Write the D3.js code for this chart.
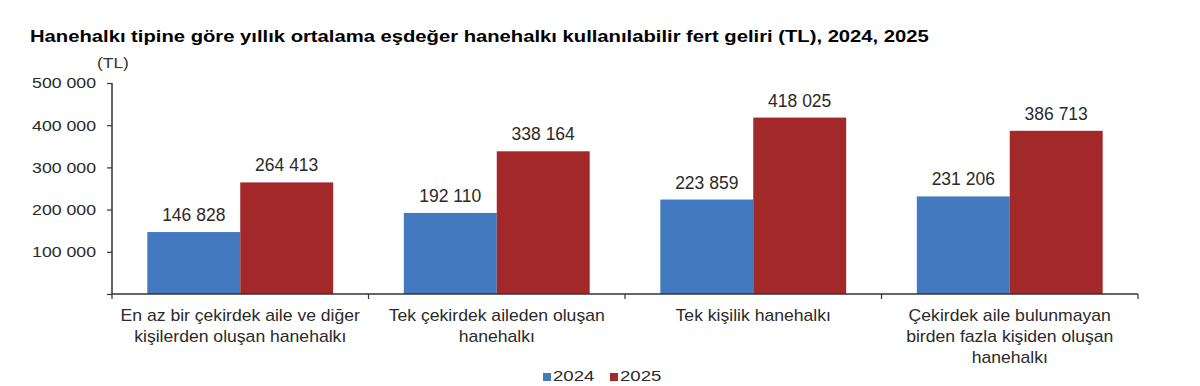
<!DOCTYPE html>
<html>
<head>
<meta charset="utf-8">
<script src="https://cdn.jsdelivr.net/npm/d3@7"></script>
<style>
  body { margin: 0; background: #fff; }
  text { font-family: "Liberation Sans", Arial, sans-serif; }
</style>
</head>
<body>
<div id="chart"></div>
<script>
const categories = [
  ["En az bir çekirdek aile ve diğer", "kişilerden oluşan hanehalkı"],
  ["Tek çekirdek aileden oluşan", "hanehalkı"],
  ["Tek kişilik hanehalkı"],
  ["Çekirdek aile bulunmayan", "birden fazla kişiden oluşan", "hanehalkı"]
];
const years = ["2024", "2025"];
const values2024 = [146828, 192110, 223859, 231206];
const values2025 = [264413, 338164, 418025, 386713];
const yTicks = [0, 100000, 200000, 300000, 400000, 500000];

const colors = { "2024": "#4279BF", "2025": "#A2282A" };
const W = 1200, H = 386;
const margin = { top: 83, right: 62, bottom: 92, left: 112 };
const width = W - margin.left - margin.right;
const height = H - margin.top - margin.bottom;

const fmt = v => d3.format(",")(v).replace(/,/g, " ");

const svg = d3.select("#chart").append("svg")
  .attr("width", W).attr("height", H);

// the source image is a little stretched sideways, so text gets a scaleX
svg.append("text")
  .attr("transform", "translate(30,42) scale(1.19,1)")
  .attr("font-size", 17).attr("font-weight", "bold")
  .attr("fill", "#000")
  .text("Hanehalkı tipine göre yıllık ortalama eşdeğer hanehalkı kullanılabilir fert geliri (TL), 2024, 2025");

svg.append("text")
  .attr("transform", "translate(97,68) scale(1.2,1)")
  .attr("font-size", 14.5).attr("fill", "#333")
  .text("(TL)");

const g = svg.append("g").attr("transform", `translate(${margin.left},${margin.top})`);

const x0 = d3.scaleBand().domain(d3.range(categories.length)).range([0, width]).paddingInner(0).paddingOuter(0);
const x1 = d3.scaleBand().domain(years).range([0, x0.bandwidth()]).paddingInner(0).paddingOuter(0.38);
const y = d3.scaleLinear().domain([0, 500000]).range([height, 0]);

const data = categories.map((c, i) => ({ i, vals: [
  { year: "2024", v: values2024[i] },
  { year: "2025", v: values2025[i] }
]}));

const groups = g.selectAll(".grp").data(data).join("g")
  .attr("transform", d => `translate(${x0(d.i)},0)`);

groups.selectAll("rect").data(d => d.vals).join("rect")
  .attr("x", d => x1(d.year))
  .attr("y", d => y(d.v))
  .attr("width", x1.bandwidth())
  .attr("height", d => height - y(d.v))
  .attr("fill", d => colors[d.year]);

groups.selectAll(".lbl").data(d => d.vals).join("text")
  .attr("class", "lbl")
  .attr("x", d => x1(d.year) + x1.bandwidth() / 2)
  .attr("y", d => y(d.v) - 11)
  .attr("text-anchor", "middle")
  .attr("font-size", 17.5).attr("fill", "#2a2a2a")
  .text(d => fmt(d.v));

// y axis
const yAxis = g.append("g")
  .call(d3.axisLeft(y).tickValues(yTicks).tickSize(5).tickFormat(d => d === 0 ? "" : fmt(d)));
yAxis.select(".domain").attr("stroke", "#333").attr("stroke-width", 1.5).attr("d", `M0,0V${height}`);
yAxis.selectAll(".tick line").attr("stroke", "#333").attr("stroke-width", 1.2);
yAxis.selectAll(".tick text")
  .attr("font-size", 15).attr("fill", "#2a2a2a")
  .attr("x", 0).attr("transform", "translate(-16,0) scale(1.18,1)")
  .attr("font-family", "Liberation Sans, Arial, sans-serif");

// x axis
const xAxis = g.append("g").attr("transform", `translate(0,${height})`);
xAxis.append("line").attr("x1", 0).attr("x2", width).attr("stroke", "#333").attr("stroke-width", 1.5);
xAxis.selectAll(".xt").data(d3.range(categories.length + 1)).join("line")
  .attr("x1", d => d * x0.step()).attr("x2", d => d * x0.step())
  .attr("y1", 0).attr("y2", 5).attr("stroke", "#333").attr("stroke-width", 1.2);

const catLabels = xAxis.selectAll(".cat").data(data).join("text")
  .attr("text-anchor", "middle")
  .attr("font-size", 16).attr("fill", "#2a2a2a")
  .attr("transform", d => `translate(${x0(d.i) + x0.bandwidth() / 2},27) scale(1.1,1)`);
catLabels.selectAll("tspan").data(d => categories[d.i]).join("tspan")
  .attr("x", 0).attr("dy", (d, k) => k === 0 ? 0 : 21)
  .text(d => d);

// legend
const legend = svg.append("g").attr("transform", "translate(543,381)");
const li = legend.selectAll("g").data(years).join("g")
  .attr("transform", (d, k) => `translate(${k * 67},0)`);
li.append("rect").attr("x", 0).attr("y", -8).attr("width", 8).attr("height", 8).attr("fill", d => colors[d]);
li.append("text").attr("transform", "translate(10,0) scale(1.2,1)").attr("font-size", 15.5).attr("fill", "#2a2a2a").text(d => d);
</script>
</body>
</html>
